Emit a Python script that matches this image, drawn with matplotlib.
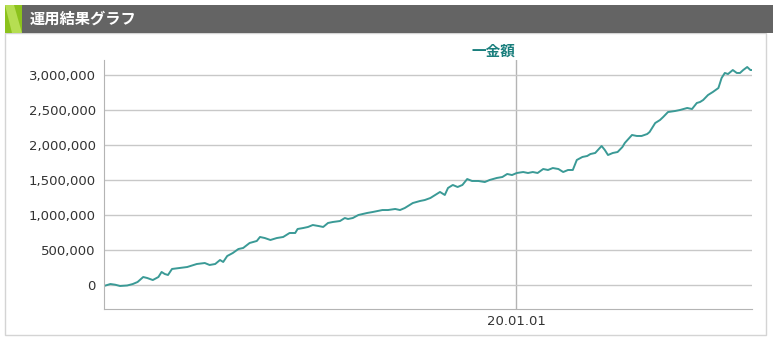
import numpy as np
import pandas as pd
import matplotlib
matplotlib.use('Agg')
import matplotlib.pyplot as plt
import matplotlib.dates as mdates
from matplotlib.patches import Rectangle, Polygon

# days since start date and account value (yen)
start = '2018-08-04'
days = [0, 8, 14, 20, 29, 36, 42, 49, 54, 61, 68, 72, 76, 80, 85, 95, 104, 116, 126, 132,
        139, 145, 149, 154, 161, 168, 174, 182, 191, 195, 201, 208, 216, 224, 232, 239, 242,
        249, 255, 261, 268, 274, 280, 286, 295, 301, 305, 311, 318, 329, 336, 348, 355, 364,
        370, 376, 380, 386, 395, 401, 408, 414, 420, 426, 430, 436, 442, 448, 454, 460, 468,
        476, 482, 491, 498, 504, 510, 516, 524, 530, 536, 542, 549, 555, 561, 568, 574, 580,
        586, 591, 598, 604, 608, 614, 622, 626, 630, 636, 642, 648, 651, 660, 666, 672, 679,
        682, 689, 695, 699, 705, 714, 720, 729, 735, 741, 745, 749, 755, 761, 768, 772, 776,
        780, 786, 791, 795, 799, 804, 808, 810]
amount = [-14000, 14000, 4000, -14000, -7000, 14000, 43000, 114000, 100000, 71000, 114000,
          186000, 157000, 143000, 229000, 243000, 257000, 300000, 314000, 286000, 300000,
          357000, 329000, 414000, 457000, 514000, 529000, 600000, 629000, 686000, 671000,
          643000, 671000, 686000, 743000, 743000, 800000, 814000, 829000, 857000, 843000,
          829000, 886000, 900000, 914000, 957000, 943000, 957000, 1000000, 1029000, 1043000,
          1071000, 1071000, 1086000, 1071000, 1100000, 1129000, 1171000, 1200000, 1214000,
          1243000, 1286000, 1329000, 1286000, 1386000, 1429000, 1400000, 1429000, 1514000,
          1486000, 1486000, 1471000, 1500000, 1529000, 1543000, 1586000, 1571000, 1600000,
          1614000, 1600000, 1614000, 1600000, 1657000, 1643000, 1671000, 1657000, 1614000,
          1643000, 1643000, 1786000, 1829000, 1843000, 1871000, 1886000, 1986000, 1929000,
          1857000, 1886000, 1900000, 1971000, 2029000, 2143000, 2129000, 2129000, 2157000,
          2186000, 2314000, 2357000, 2400000, 2471000, 2486000, 2500000, 2529000, 2514000,
          2600000, 2614000, 2643000, 2714000, 2757000, 2814000, 2957000, 3029000, 3014000,
          3071000, 3029000, 3029000, 3071000, 3114000, 3071000, 3071000]
yticks = [0, 500000, 1000000, 1500000, 2000000, 2500000, 3000000]
xtick_dates = ['2020-01-01']

dates = pd.Timestamp(start) + pd.to_timedelta(days, unit='D')

W, H = 773, 342
fig = plt.figure(figsize=(W / 100, H / 100), dpi=100)
fig.patch.set_facecolor('white')

# frame and header bar
fig.patches.append(Rectangle((5 / W, 7 / H), 761 / W, 302 / H, transform=fig.transFigure,
                             fill=False, edgecolor='#d4d4d4', lw=1))
fig.patches.append(Rectangle((22 / W, (H - 33) / H), (W - 22) / W, 28 / H,
                             transform=fig.transFigure, color='#646464', lw=0))
fig.patches.append(Rectangle((5 / W, (H - 33) / H), 17 / W, 28 / H,
                             transform=fig.transFigure, color='#8cc21c', lw=0))
fig.patches.append(Polygon([(5 / W, (H - 5) / H), (14 / W, (H - 5) / H), (22 / W, (H - 33) / H),
                            (12 / W, (H - 33) / H)], closed=True, transform=fig.transFigure,
                           color='#b6de52', lw=0))
fig.text(30 / W, (H - 19) / H, '運用結果グラフ', color='white', fontsize=11,
         fontweight='bold', family=['Noto Sans CJK JP', 'DejaVu Sans'], va='center')

ax = fig.add_axes([104 / W, (H - 309) / H, (752 - 104) / W, (309 - 60) / H])
ax.plot(dates, amount, color='#3a9a96', lw=1.4)

ax.set_ylim(-342857, 3214286)
ax.set_xlim(dates[0], dates[-1])
ax.set_yticks(yticks)
ax.yaxis.set_major_formatter(matplotlib.ticker.FuncFormatter(lambda v, p: f'{int(v):,}'))
ax.set_xticks(pd.to_datetime(xtick_dates))
ax.xaxis.set_major_formatter(mdates.DateFormatter('%y.%m.%d'))
ax.grid(axis='y', color='#c8c8c8', lw=1)
ax.grid(axis='x', color='#b4b4b4', lw=1)
ax.set_axisbelow(True)
ax.tick_params(length=0, labelsize=9.5, labelcolor='#333333')
ax.tick_params(axis='y', pad=6)
ax.tick_params(axis='x', pad=4)
for s in ['top', 'right']:
    ax.spines[s].set_visible(False)
for s in ['left', 'bottom']:
    ax.spines[s].set_color('#b4b4b4')

fig.text(493 / W, (H - 51) / H, '一金額', color='#1a7f7d', fontsize=10.5, fontweight='bold',
         family=['Noto Sans CJK JP', 'DejaVu Sans'], ha='center', va='center')

fig.savefig('out.png', dpi=100)
